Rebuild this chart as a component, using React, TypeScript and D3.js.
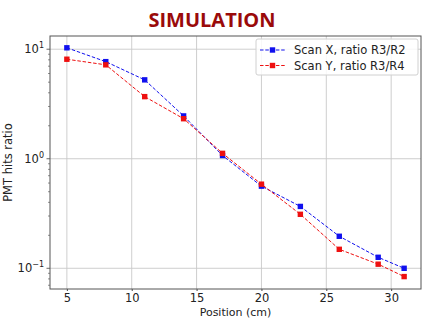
import React, { useEffect, useRef } from 'react';
import * as d3 from 'd3';

const positions = [5, 8, 11, 14, 17, 20, 23, 26, 29, 31];
const scanX = [10.3, 7.7, 5.25, 2.46, 1.07, 0.562, 0.367, 0.196, 0.126, 0.1];
const scanY = [8.1, 7.2, 3.69, 2.32, 1.12, 0.586, 0.311, 0.149, 0.109, 0.084];
const xTicks = [5, 10, 15, 20, 25, 30];
const yTicks = [0.1, 1, 10];
const yTickExp = ['−1', '0', '1'];
const seriesNames = ['Scan X, ratio R3/R2', 'Scan Y, ratio R3/R4'];
const seriesColors = ['#1010ee', '#ee1010'];

const App = () => {
  const svgRef = useRef<SVGSVGElement>(null);

  useEffect(() => {
    const W = 424;
    const H = 320;
    const margin = { top: 36, right: 3, bottom: 31, left: 50 };
    const width = W - margin.left - margin.right;
    const height = H - margin.top - margin.bottom;

    const root = d3.select(svgRef.current);
    root.selectAll('*').remove();
    root.attr('width', W).attr('height', H);

    root.append('rect').attr('width', W).attr('height', H).attr('fill', '#fff');

    root.append('text')
      .attr('x', 212)
      .attr('y', 27)
      .attr('text-anchor', 'middle')
      .attr('font-family', '"Open Sans", sans-serif')
      .attr('font-weight', 'bold')
      .attr('font-size', 20)
      .attr('fill', '#9a0a0a')
      .text('SIMULATION');

    const svg = root.append('g').attr('transform', `translate(${margin.left},${margin.top})`);

    const x = d3.scaleLinear().domain([3.7, 32.3]).range([0, width]);
    const y = d3.scaleLog().domain([0.0647, 13.2]).range([height, 0]);

    // grid
    svg.append('g')
      .selectAll('line')
      .data(xTicks)
      .enter()
      .append('line')
      .attr('x1', d => x(d)).attr('x2', d => x(d))
      .attr('y1', 0).attr('y2', height)
      .attr('stroke', '#c8c8c8').attr('stroke-width', 0.9);
    svg.append('g')
      .selectAll('line')
      .data(yTicks)
      .enter()
      .append('line')
      .attr('x1', 0).attr('x2', width)
      .attr('y1', d => y(d)).attr('y2', d => y(d))
      .attr('stroke', '#c8c8c8').attr('stroke-width', 0.9);

    // x axis
    const xAxis = svg.append('g')
      .attr('transform', `translate(0,${height})`)
      .call(d3.axisBottom(x).tickValues(xTicks).tickSize(2).tickPadding(3).tickFormat(d3.format('d')));
    xAxis.select('.domain').remove();
    xAxis.selectAll('text')
      .attr('font-family', '"DejaVu Sans", sans-serif')
      .attr('font-size', 11.5)
      .attr('fill', '#222');
    xAxis.selectAll('line').attr('stroke', '#444');

    // y axis, major + minor
    const minor: number[] = [];
    [0.01, 0.1, 1, 10].forEach(base => {
      for (let k = 2; k <= 9; k++) {
        const v = base * k;
        if (v > 0.0647 && v < 13.2) minor.push(v);
      }
    });
    const yg = svg.append('g');
    yg.selectAll('line.minor')
      .data(minor)
      .enter()
      .append('line')
      .attr('class', 'minor')
      .attr('x1', -2).attr('x2', 0)
      .attr('y1', d => y(d)).attr('y2', d => y(d))
      .attr('stroke', '#444').attr('stroke-width', 0.6);
    yg.selectAll('line.major')
      .data(yTicks)
      .enter()
      .append('line')
      .attr('class', 'major')
      .attr('x1', -3.5).attr('x2', 0)
      .attr('y1', d => y(d)).attr('y2', d => y(d))
      .attr('stroke', '#444').attr('stroke-width', 0.8);
    const yl = yg.selectAll('text.lbl')
      .data(yTicks)
      .enter()
      .append('text')
      .attr('class', 'lbl')
      .attr('x', -6)
      .attr('y', d => y(d) + 4)
      .attr('text-anchor', 'end')
      .attr('font-family', '"DejaVu Sans", sans-serif')
      .attr('font-size', 11.5)
      .attr('fill', '#222');
    yl.append('tspan').text('10');
    yl.append('tspan')
      .attr('dy', -5)
      .attr('font-size', 8)
      .text((d, i) => yTickExp[i]);

    // frame
    svg.append('rect')
      .attr('width', width).attr('height', height)
      .attr('fill', 'none').attr('stroke', '#555').attr('stroke-width', 1);

    // series
    const seriesData = [scanX, scanY];
    const line = d3.line<number>()
      .x((d, i) => x(positions[i]))
      .y(d => y(d));
    seriesData.forEach((vals, si) => {
      svg.append('path')
        .datum(vals)
        .attr('d', line)
        .attr('fill', 'none')
        .attr('stroke', seriesColors[si])
        .attr('stroke-width', 1)
        .attr('stroke-dasharray', '3.5,1.8');
      svg.selectAll(`rect.m${si}`)
        .data(vals)
        .enter()
        .append('rect')
        .attr('class', `m${si}`)
        .attr('x', (d, i) => x(positions[i]) - 2.7)
        .attr('y', d => y(d) - 2.7)
        .attr('width', 5.4).attr('height', 5.4)
        .attr('fill', seriesColors[si]);
    });

    // legend
    const lg = svg.append('g').attr('transform', `translate(${width - 165},3)`);
    lg.append('rect')
      .attr('width', 162).attr('height', 36)
      .attr('rx', 2)
      .attr('fill', '#fff').attr('fill-opacity', 0.85)
      .attr('stroke', '#d0d0d0');
    seriesNames.forEach((name, i) => {
      const cy = 11 + i * 15.5;
      lg.append('line')
        .attr('x1', 4).attr('x2', 29)
        .attr('y1', cy).attr('y2', cy)
        .attr('stroke', seriesColors[i])
        .attr('stroke-width', 1)
        .attr('stroke-dasharray', '3.5,1.8');
      lg.append('rect')
        .attr('x', 16.5 - 2.7).attr('y', cy - 2.7)
        .attr('width', 5.4).attr('height', 5.4)
        .attr('fill', seriesColors[i]);
      lg.append('text')
        .attr('x', 38).attr('y', cy + 4)
        .attr('font-family', '"DejaVu Sans", sans-serif')
        .attr('font-size', 11.5)
        .attr('fill', '#222')
        .text(name);
    });

    // axis labels
    root.append('text')
      .attr('x', margin.left + width / 2)
      .attr('y', 315.5)
      .attr('text-anchor', 'middle')
      .attr('font-family', '"DejaVu Sans", sans-serif')
      .attr('font-size', 11)
      .attr('fill', '#222')
      .text('Position (cm)');
    root.append('text')
      .attr('transform', `translate(12,${margin.top + height / 2}) rotate(-90)`)
      .attr('text-anchor', 'middle')
      .attr('font-family', '"DejaVu Sans", sans-serif')
      .attr('font-size', 11.5)
      .attr('fill', '#222')
      .text('PMT hits ratio');
  }, []);

  return (
    <div style={{ position: 'absolute', left: 0, top: 0 }}>
      <svg ref={svgRef}></svg>
    </div>
  );
};

export default App;
